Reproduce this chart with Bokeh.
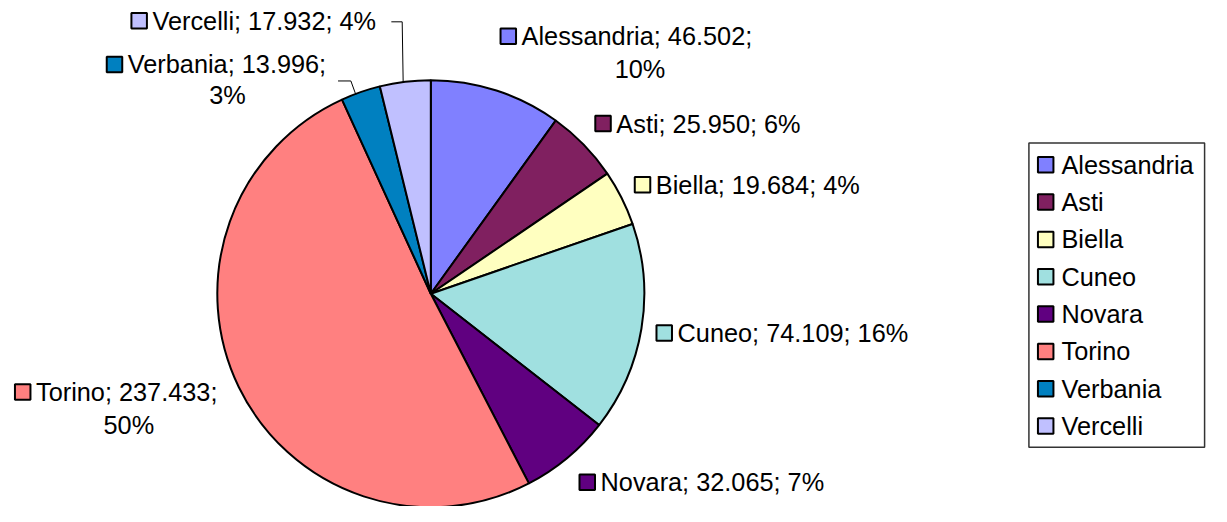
import math
from bokeh.plotting import figure
from bokeh.models import Range1d
from bokeh.core.properties import value
from bokeh.embed import file_html
from bokeh.resources import INLINE

# ---- data ----
provinces = ["Alessandria", "Asti", "Biella", "Cuneo", "Novara", "Torino", "Verbania", "Vercelli"]
values = [46.502, 25.950, 19.684, 74.109, 32.065, 237.433, 13.996, 17.932]
value_labels = ["46.502", "25.950", "19.684", "74.109", "32.065", "237.433", "13.996", "17.932"]
pct_labels = ["10%", "6%", "4%", "16%", "7%", "50%", "3%", "4%"]
colors = ["#8080FF", "#802060", "#FFFFC0", "#A0E0E0", "#600080", "#FF8080", "#0080C0", "#C0C0FF"]

# ---- layout (reference pixel coordinates, y measured from top) ----
W, H = 1211, 506
REF_W, REF_H = 1227, 522
FONT = value("Liberation Sans")
FS = "25.3px"
def Y(sy):
    return REF_H - sy

cx, cy, R = 436, Y(302.5), 213.5

p = figure(width=W, height=H, output_backend="svg", toolbar_location=None,
           x_range=Range1d(0, REF_W), y_range=Range1d(0, REF_H),
           x_axis_location=None, y_axis_location=None, min_border=0)
p.grid.visible = False
p.outline_line_color = None
p.background_fill_color = "white"

total = sum(values)
cum = 0.0
starts, ends = [], []
for v in values:
    starts.append(math.pi / 2 - 2 * math.pi * cum / total)
    cum += v
    ends.append(math.pi / 2 - 2 * math.pi * cum / total)

p.wedge(x=cx, y=cy, radius=R, radius_units="screen", start_angle=starts, end_angle=ends,
        direction="clock", fill_color=colors, line_color="black", line_width=2)

# label layout: (box x-left, line1 center y, line2 center x or None, line2 center y)
label_pos = {
    "Alessandria": (506, 37, 648, 71),
    "Asti": (602, 127, None, None),
    "Biella": (642, 190, None, None),
    "Cuneo": (664, 343, None, None),
    "Novara": (586, 497, None, None),
    "Torino": (14, 404, 130, 438),
    "Verbania": (107, 66, 230, 98),
    "Vercelli": (132, 21, None, None),
}

for i, name in enumerate(provinces):
    bx, ly, l2x, l2y = label_pos[name]
    p.rect(x=bx + 8.5, y=Y(ly), width=15.5, height=15.5, width_units="screen",
           height_units="screen", fill_color=colors[i], line_color="black", line_width=2)
    if l2x is None:
        txt = f"{name}; {value_labels[i]}; {pct_labels[i]}"
    else:
        txt = f"{name}; {value_labels[i]};"
    p.text(x=bx + 22, y=Y(ly), text=[txt], text_font=FONT, text_font_size=FS,
           text_baseline="middle", text_align="left", text_color="black")
    if l2x is not None:
        p.text(x=l2x, y=Y(l2y), text=[pct_labels[i]], text_font=FONT, text_font_size=FS,
               text_baseline="middle", text_align="center", text_color="black")

# leader lines
p.line(x=[396, 407, 408], y=[Y(22), Y(22), Y(85)], line_color="black", line_width=1)
p.line(x=[342, 355, 360], y=[Y(83), Y(83), Y(97)], line_color="black", line_width=1)

# legend
p.quad(left=1042, right=1220, top=Y(147), bottom=Y(461), fill_color="white",
       line_color="#333333", line_width=1.5)
for i, name in enumerate(provinces):
    ly = 169.5 + i * 38.5
    p.rect(x=1059, y=Y(ly), width=15.5, height=15.5, width_units="screen",
           height_units="screen", fill_color=colors[i], line_color="black", line_width=2)
    p.text(x=1075, y=Y(ly), text=[name], text_font=FONT, text_font_size=FS,
           text_baseline="middle", text_align="left", text_color="black")

open("out.html", "w").write(file_html(p, INLINE))
